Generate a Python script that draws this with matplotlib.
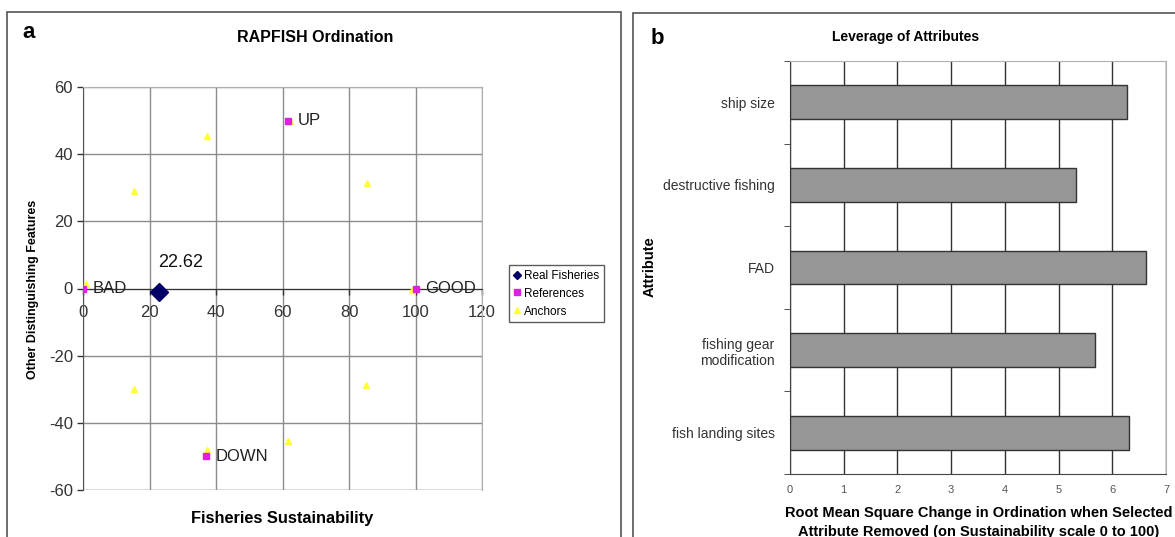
import matplotlib
matplotlib.use("Agg")
import matplotlib.pyplot as plt
from matplotlib.patches import Rectangle
from matplotlib.lines import Line2D

plt.rcParams['font.family'] = ['Liberation Sans', 'DejaVu Sans']
plt.rcParams['axes.unicode_minus'] = False

# ---- panel a: RAPFISH ordination ----
real_x = [22.62]
real_y = [-1.0]

ref_x = [0, 100, 61.5, 37]
ref_y = [0, 0, 50, -50]
ref_labels = ["BAD", "GOOD", "UP", "DOWN"]

anchor_x = [0.8, 98.8, 15.2, 37.3, 62.2, 85.4, 15.2, 37.1, 61.7, 85.2]
anchor_y = [1.2, -0.3, 29.0, 45.5, 49.8, 31.5, -30.0, -48.0, -45.4, -28.6]

# ---- panel b: leverage of attributes ----
attributes = ["fish landing sites", "fishing gear\nmodification", "FAD",
              "destructive fishing", "ship size"]
leverage = [6.32, 5.68, 6.62, 5.32, 6.28]

W, H = 1175, 537
fig = plt.figure(figsize=(W / 100, H / 100), dpi=100)


def fx(px):
    return px / W


def fy(py):
    return 1 - py / H


# panel frames
fig.patches.append(Rectangle((fx(7), fy(540)), fx(621 - 7), fy(12) - fy(540),
                             transform=fig.transFigure, fill=False,
                             edgecolor='#555555', lw=1.2))
fig.patches.append(Rectangle((fx(633), fy(540)), fx(1180 - 633), fy(13) - fy(540),
                             transform=fig.transFigure, fill=False,
                             edgecolor='#555555', lw=1.2))

# ================= panel a =================
ax = fig.add_axes([fx(83.4), fy(490), fx(482 - 83.4), fy(87) - fy(490)])
ax.set_xlim(0, 120)
ax.set_ylim(-60, 60)
ax.set_xticks(range(0, 121, 20))
ax.set_yticks(range(-60, 61, 20))
ax.grid(True, color='#8c8c8c', lw=1.0)
ax.set_axisbelow(True)
ax.axhline(-60, color='#b0b0b0', lw=1.0)

ax.spines['bottom'].set_position(('data', 0))
ax.spines['bottom'].set_color('#333333')
ax.spines['left'].set_color('#555555')
ax.spines['top'].set_color('#b0b0b0')
ax.spines['right'].set_color('#b0b0b0')
ax.tick_params(axis='both', labelsize=12, colors='#333333', length=4, width=1)
ax.tick_params(axis='x', pad=8)

ax.plot(anchor_x, anchor_y, '^', color='#ffff33', markersize=5, ls='none', zorder=3)
ax.plot(ref_x, ref_y, 's', color='#e020e0', markersize=4, ls='none', zorder=3)
ax.plot(real_x, real_y, 'D', color='#000066', markersize=9, ls='none', zorder=4)

for x, y, lab in zip(ref_x, ref_y, ref_labels):
    ax.annotate(lab, (x, y), xytext=(7, 0), textcoords='offset points',
                ha='left', va='center', fontsize=12, color='#222222', zorder=5)
ax.annotate(f"{real_x[0]:.2f}", (real_x[0], real_y[0]), xytext=(16, 21),
            textcoords='offset points', ha='center', va='center', fontsize=13,
            color='#111111')

handles = [Line2D([], [], marker='D', color='#000066', ls='none', markersize=4.5),
           Line2D([], [], marker='s', color='#e020e0', ls='none', markersize=4),
           Line2D([], [], marker='^', color='#ffff33', ls='none', markersize=4.5)]
leg = fig.legend(handles, ["Real Fisheries", "References", "Anchors"],
                 loc='upper left', bbox_to_anchor=(fx(509), fy(265)),
                 fontsize=8.5, frameon=True, fancybox=False, borderaxespad=0,
                 handlelength=0.6, handletextpad=0.3, labelspacing=0.5,
                 borderpad=0.4)
leg.get_frame().set_edgecolor('#333333')
leg.get_frame().set_linewidth(1.0)

fig.text(fx(29), fy(32), "a", fontsize=16, fontweight='bold', ha='center', va='center')
fig.text(fx(315), fy(37), "RAPFISH Ordination", fontsize=11.5, fontweight='bold',
         ha='center', va='center')
fig.text(fx(282), fy(518), "Fisheries Sustainability", fontsize=11.8,
         fontweight='bold', ha='center', va='center')
fig.text(fx(33), fy(289), "Other Distinguishing Features", fontsize=9,
         fontweight='bold', ha='center', va='center', rotation=90)

# ================= panel b =================
bx = fig.add_axes([fx(790), fy(474), fx(1166 - 790), fy(61) - fy(474)])
pos = list(range(len(attributes)))
bx.barh(pos, leverage, height=0.41, color='#969696', edgecolor='#333333',
        lw=1.0, zorder=3)
bx.set_xlim(0, 7)
bx.set_ylim(-0.5, len(attributes) - 0.5)
bx.set_xticks(range(0, 8))
bx.set_yticks(pos)
bx.set_yticklabels(attributes)
bx.set_yticks([p - 0.5 for p in range(len(attributes) + 1)], minor=True)
bx.tick_params(axis='y', which='major', length=0, pad=11, labelsize=10,
               labelcolor='#333333')
bx.tick_params(axis='y', which='minor', length=4, color='#333333')
bx.tick_params(axis='x', length=0, pad=8, labelsize=8, labelcolor='#555555')
bx.grid(True, axis='x', color='#333333', lw=1.0)
bx.set_axisbelow(True)
bx.spines['left'].set_color('#444444')
bx.spines['bottom'].set_color('#444444')
bx.spines['top'].set_color('#b0b0b0')
bx.spines['right'].set_color('#b0b0b0')
for t in bx.get_yticklabels():
    t.set_multialignment('right')

fig.text(fx(657), fy(38), "b", fontsize=16, fontweight='bold', ha='center', va='center')
fig.text(fx(906), fy(37), "Leverage of Attributes", fontsize=10, fontweight='bold',
         ha='center', va='center')
fig.text(fx(979), fy(513), "Root Mean Square Change in Ordination when Selected",
         fontsize=10.5, fontweight='bold', ha='center', va='center')
fig.text(fx(979), fy(532), "Attribute Removed (on Sustainability scale 0 to 100)",
         fontsize=10.5, fontweight='bold', ha='center', va='center')
fig.text(fx(650), fy(267), "Attribute", fontsize=10.5, fontweight='bold',
         ha='center', va='center', rotation=90)

fig.savefig("out.png", dpi=100)
